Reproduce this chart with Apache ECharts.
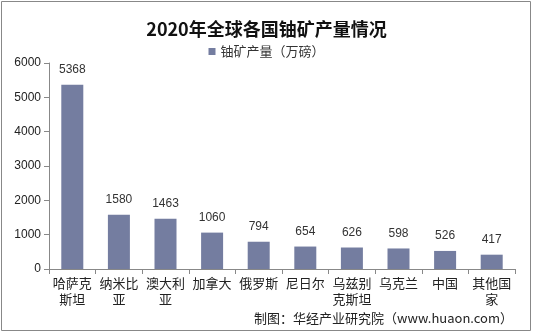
<!DOCTYPE html>
<html>
<head>
<meta charset="utf-8">
<script src="https://cdn.jsdelivr.net/npm/echarts@6/dist/echarts.min.js"></script>
<style>
html, body { margin: 0; padding: 0; background: #fff; }
#chart { width: 533px; height: 335px; }
</style>
</head>
<body>
<div id="chart"></div>
<script>
// 数据
var countries = ['哈萨克\n斯坦', '纳米比\n亚', '澳大利\n亚', '加拿大', '俄罗斯', '尼日尔', '乌兹别\n克斯坦', '乌克兰', '中国', '其他国\n家'];
var output = [5368, 1580, 1463, 1060, 794, 654, 626, 598, 526, 417];
var yTicks = [0, 1000, 2000, 3000, 4000, 5000, 6000];

var chart = echarts.init(document.getElementById('chart'));

var option = {
    animation: false,
    backgroundColor: '#fff',
    title: {
        text: '2020年全球各国铀矿产量情况',
        left: 'center',
        top: 15,
        textStyle: {
            fontFamily: 'Noto Sans CJK SC',
            fontWeight: 'bold',
            fontSize: 18,
            color: '#111'
        }
    },
    legend: {
        top: 40,
        left: 'center',
        itemWidth: 7,
        itemHeight: 7,
        itemGap: 4,
        icon: 'rect',
        textStyle: { fontSize: 13, color: '#333', fontFamily: 'Noto Sans CJK SC' },
        data: ['铀矿产量（万磅）']
    },
    grid: { left: 49, right: 18, top: 63, bottom: 66 },
    xAxis: {
        type: 'category',
        data: countries,
        axisLine: { lineStyle: { color: '#888' } },
        axisTick: { show: true, length: 5, lineStyle: { color: '#888' } },
        axisLabel: {
            interval: 0,
            color: '#222',
            fontSize: 13,
            lineHeight: 16,
            margin: 6,
            fontFamily: 'Noto Sans CJK SC'
        }
    },
    yAxis: {
        type: 'value',
        min: yTicks[0],
        max: yTicks[yTicks.length - 1],
        interval: 1000,
        splitLine: { show: false },
        axisLine: { show: true, lineStyle: { color: '#888' } },
        axisTick: { show: true, length: 5, lineStyle: { color: '#888' } },
        axisLabel: {
            color: '#222',
            fontSize: 12,
            fontFamily: 'Liberation Sans',
            margin: 8,
            formatter: function (v) { return String(v); }
        }
    },
    series: [{
        name: '铀矿产量（万磅）',
        type: 'bar',
        data: output,
        barWidth: 22,
        itemStyle: { color: '#747DA0' },
        label: {
            show: true,
            position: 'top',
            distance: 9,
            color: '#333',
            fontSize: 12,
            fontFamily: 'Liberation Sans'
        }
    }],
    graphic: [
        {
            type: 'rect',
            shape: { x: 1.5, y: 1.5, width: 529, height: 329 },
            style: { fill: null, stroke: '#888', lineWidth: 1 },
            silent: true
        },
        {
            type: 'text',
            right: 20,
            top: 312,
            style: {
                text: '制图：华经产业研究院（www.huaon.com）',
                fill: '#222',
                fontSize: 13,
                fontFamily: 'Noto Sans CJK SC'
            }
        }
    ]
};

chart.setOption(option);
</script>
</body>
</html>
